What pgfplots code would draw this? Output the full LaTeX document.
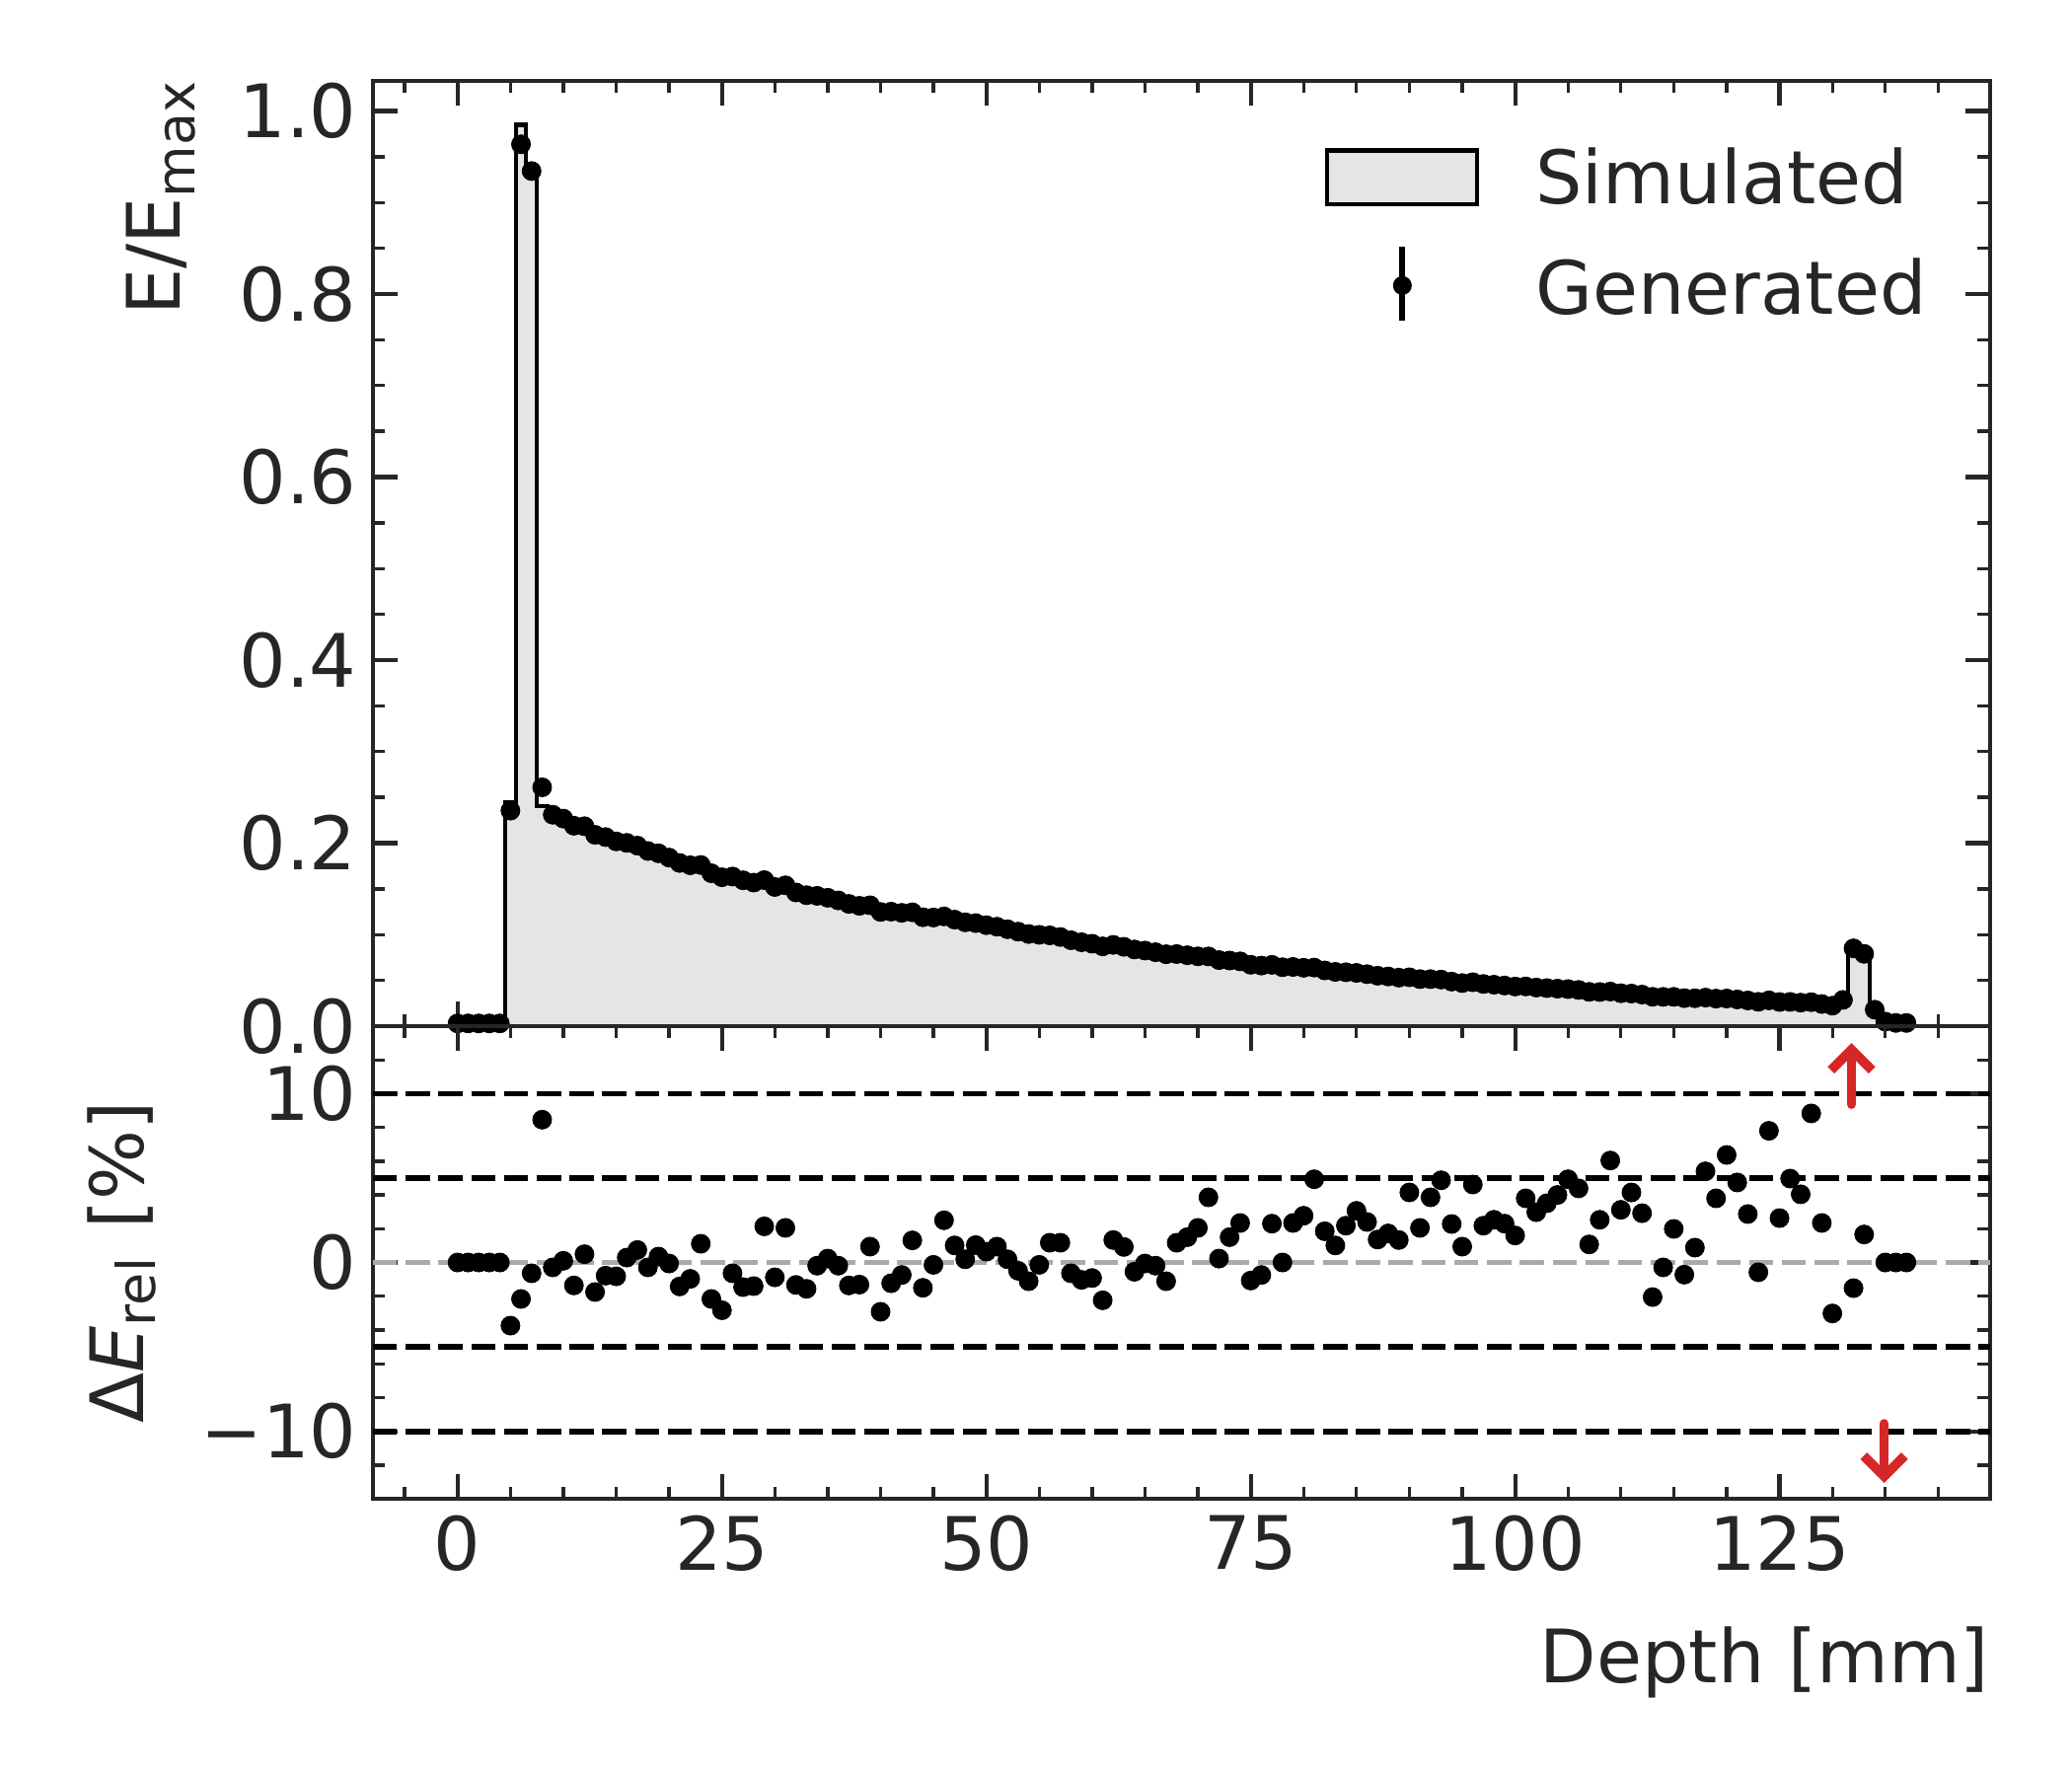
\documentclass[border=0pt]{standalone}
\usepackage{pgfplots}
\pgfplotsset{compat=1.18}
\usepackage{pgfplotstable}
\usepackage{fontspec}
\setmainfont{DejaVu Sans}
\usetikzlibrary{arrows.meta}
\definecolor{textgray}{HTML}{262626}
\definecolor{simgray}{HTML}{E5E5E5}
\definecolor{zerogray}{HTML}{AAAAAA}
\definecolor{tabred}{HTML}{D62728}
\newcommand{\bigfont}{\fontsize{18}{21.6}\selectfont}
\newcommand{\subfont}{\fontsize{13}{15}\selectfont}

\pgfplotstableread{
x sim gen drel
0 0.003 0.003 0
1 0.003 0.003 0
2 0.003 0.003 0
3 0.003 0.003 0
4 0.003 0.003 0
5 0.2446 0.2355 -3.74
6 0.9850 0.9637 -2.16
7 0.9404 0.9344 -0.64
8 0.2406 0.2610 8.46
9 0.2317 0.2310 -0.29
10 0.2266 0.2268 0.10
11 0.2220 0.2190 -1.36
12 0.2174 0.2185 0.49
13 0.2128 0.2091 -1.75
14 0.2082 0.2066 -0.78
15 0.2036 0.2019 -0.82
16 0.1997 0.2003 0.29
17 0.1959 0.1973 0.74
18 0.1920 0.1914 -0.29
19 0.1882 0.1889 0.35
20 0.1843 0.1842 -0.06
21 0.1809 0.1783 -1.42
22 0.1775 0.1758 -0.97
23 0.1742 0.1761 1.11
24 0.1708 0.1671 -2.16
25 0.1674 0.1627 -2.83
26 0.1646 0.1635 -0.64
27 0.1618 0.1594 -1.46
28 0.1591 0.1569 -1.40
29 0.1563 0.1596 2.14
30 0.1535 0.1521 -0.88
31 0.1508 0.1539 2.05
32 0.1481 0.1461 -1.33
33 0.1454 0.1431 -1.56
34 0.1427 0.1424 -0.19
35 0.1400 0.1403 0.23
36 0.1377 0.1374 -0.19
37 0.1354 0.1336 -1.36
38 0.1332 0.1315 -1.31
39 0.1309 0.1321 0.94
40 0.1286 0.1248 -2.92
41 0.1267 0.1251 -1.23
42 0.1247 0.1238 -0.74
43 0.1228 0.1244 1.31
44 0.1208 0.1190 -1.50
45 0.1189 0.1187 -0.14
46 0.1170 0.1199 2.50
47 0.1152 0.1164 1.01
48 0.1133 0.1135 0.19
49 0.1115 0.1126 1.03
50 0.1096 0.1103 0.64
51 0.1077 0.1087 0.94
52 0.1057 0.1059 0.19
53 0.1038 0.1033 -0.49
54 0.1018 0.1007 -1.11
55 0.0999 0.0998 -0.14
56 0.0981 0.0992 1.17
57 0.0963 0.0974 1.17
58 0.0945 0.0939 -0.64
59 0.0927 0.0917 -1.03
60 0.0909 0.0901 -0.92
61 0.0892 0.0872 -2.24
62 0.0876 0.0888 1.33
63 0.0859 0.0867 0.92
64 0.0843 0.0838 -0.55
65 0.0826 0.0826 -0.06
66 0.0810 0.0808 -0.19
67 0.0795 0.0786 -1.11
68 0.0779 0.0788 1.17
69 0.0764 0.0775 1.50
70 0.0748 0.0763 2.05
71 0.0734 0.0762 3.86
72 0.0720 0.0722 0.23
73 0.0706 0.0717 1.50
74 0.0692 0.0708 2.34
75 0.0678 0.0671 -1.07
76 0.0667 0.0662 -0.74
77 0.0655 0.0670 2.30
78 0.0644 0.0644 0.00
79 0.0632 0.0647 2.34
80 0.0621 0.0638 2.77
81 0.0610 0.0640 4.93
82 0.0598 0.0609 1.85
83 0.0587 0.0593 1.01
84 0.0576 0.0589 2.18
85 0.0565 0.0582 3.06
86 0.0555 0.0568 2.40
87 0.0544 0.0551 1.36
88 0.0534 0.0543 1.72
89 0.0523 0.0530 1.33
90 0.0513 0.0534 4.15
91 0.0504 0.0514 2.05
92 0.0495 0.0514 3.86
93 0.0485 0.0509 4.87
94 0.0476 0.0487 2.28
95 0.0467 0.0471 0.94
96 0.0459 0.0480 4.62
97 0.0451 0.0461 2.18
98 0.0442 0.0453 2.53
99 0.0434 0.0444 2.30
100 0.0426 0.0433 1.60
101 0.0418 0.0434 3.80
102 0.0410 0.0422 2.98
103 0.0402 0.0416 3.51
104 0.0394 0.0410 4.00
105 0.0386 0.0405 4.93
106 0.0379 0.0396 4.39
107 0.0371 0.0375 1.07
108 0.0364 0.0373 2.53
109 0.0356 0.0378 6.04
110 0.0349 0.0360 3.12
111 0.0342 0.0356 4.15
112 0.0335 0.0345 2.92
113 0.0328 0.0321 -2.05
114 0.0321 0.0320 -0.29
115 0.0314 0.0320 1.99
116 0.0308 0.0306 -0.72
117 0.0302 0.0305 0.88
118 0.0296 0.0312 5.40
119 0.0290 0.0301 3.80
120 0.0284 0.0302 6.37
121 0.0279 0.0292 4.74
122 0.0273 0.0281 2.87
123 0.0268 0.0266 -0.58
124 0.0262 0.0282 7.80
125 0.0257 0.0264 2.63
126 0.0252 0.0265 4.97
127 0.0247 0.0257 4.04
128 0.0241 0.0262 8.83
129 0.0236 0.0242 2.34
130 0.0231 0.0224 -3.02
131 0.0226 0.0287 27.0
132 0.0863 0.0850 -1.52
133 0.0777 0.0790 1.66
134 0.0240 0.0180 -25.0
135 0.0050 0.0050 0
136 0.0035 0.0035 0
137 0.0035 0.0035 0
138 0.0035 nan nan
}\data

\pgfplotsset{
  mystyle/.style={
    scale only axis, width=394.8pt,
    xmin=-8, xmax=144.9,
    axis line style={textgray, line width=1pt},
    tick align=inside, tick pos=both,
    major tick length=6pt, minor tick length=3pt,
    every tick/.append style={textgray},
    every major tick/.append style={line width=1pt},
    every minor tick/.append style={line width=0.8pt},
    xtick={0,25,50,75,100,125},
    minor xtick={-5,0,...,140},
    tick label style={font=\bigfont, text=textgray, inner sep=3.8pt},
    label style={font=\bigfont, text=textgray},
  },
  dashline/.style={line width=1.4pt, dash pattern=on 5.9pt off 2.1pt, forget plot},
  dots/.style={only marks, mark=*, mark size=2.3pt, black, mark options={draw=black,fill=black,line width=0.2pt}},
}

\begin{document}
\begin{tikzpicture}[font=\bigfont]
\begin{axis}[mystyle, at={(0,0)}, anchor=south west, height=230.8pt,
  ymin=0, ymax=1.033,
  ytick={0,0.2,0.4,0.6,0.8,1.0}, yticklabels={0.0,0.2,0.4,0.6,0.8,1.0},
  minor ytick={0,0.05,...,1.0},
  xticklabels={},
  ylabel={E/E\raisebox{-3.4pt}{\subfont max}},
  ylabel style={at={(axis description cs:-0.1190,1)}, anchor=base east, inner sep=0pt},
  legend style={draw=none, fill=none, at={(axis description cs:0.589,0.9294)}, anchor=north west,
    font=\bigfont, text=textgray, inner sep=0pt, outer sep=0pt,
    row sep=8.4pt, column sep=13.7pt, nodes={inner sep=0pt}},
  legend cell align=left,
]
\addplot[const plot mark left, fill=simgray, draw=black, line width=1pt,
  legend image code/.code={\draw[black,line width=1pt,fill=simgray] (0pt,-6.3pt) rectangle (36.6pt,6.9pt);}]
  table[x expr=\thisrow{x}-0.5, y=sim] {\data} \closedcycle;
\addlegendentry{Simulated}
\addplot[dots, restrict x to domain=0:137,
  legend image code/.code={\draw[black,line width=1.4pt] (18.3pt,-7.8pt) -- (18.3pt,10.3pt); \fill[black] (18.3pt,0.9pt) circle (2.1pt);}]
  table[x=x, y=gen] {\data};
\addlegendentry{Generated}
\end{axis}

\begin{axis}[mystyle, at={(0,0)}, anchor=north west, height=115.4pt,
  ymin=-14, ymax=14,
  ytick={-10,0,10}, yticklabels={−10,0,10},
  minor ytick={-14,-12,...,14},
  xticklabels={0,25,50,75,100,125},
  xlabel={Depth [mm]},
  xlabel style={at={(axis description cs:1,-0.3882)}, anchor=base east, inner sep=0pt},
  ylabel={Δ\textit{E}\raisebox{-2.9pt}{\subfont rel}\hspace{7pt}[\%]},
  ylabel style={at={(axis description cs:-0.1421,0.5)}, anchor=base, inner sep=0pt},
]
\addplot[dashline, black] coordinates {(-8,10) (144.9,10)};
\addplot[dashline, black] coordinates {(-8,5) (144.9,5)};
\addplot[dashline, black] coordinates {(-8,-5) (144.9,-5)};
\addplot[dashline, black] coordinates {(-8,-10) (144.9,-10)};
\addplot[dashline, zerogray] coordinates {(-8,0) (144.9,0)};
\addplot[dots, restrict x to domain=0:137, restrict y to domain=-14:14]
  table[x=x, y=drel] {\data};
\addplot[tabred, line width=2.3pt, line cap=round, -{Straight Barb[length=5pt,width=10pt]}] coordinates {(131.8,9.37) (131.8,13.0)};
\addplot[tabred, line width=2.3pt, line cap=round, -{Straight Barb[length=5pt,width=10pt]}] coordinates {(134.9,-9.55) (134.9,-13.06)};
\end{axis}
\pgfresetboundingbox
\path[use as bounding box] (-91.06pt,-183.08pt) rectangle (414.83pt,250.54pt);
\end{tikzpicture}
\end{document}
